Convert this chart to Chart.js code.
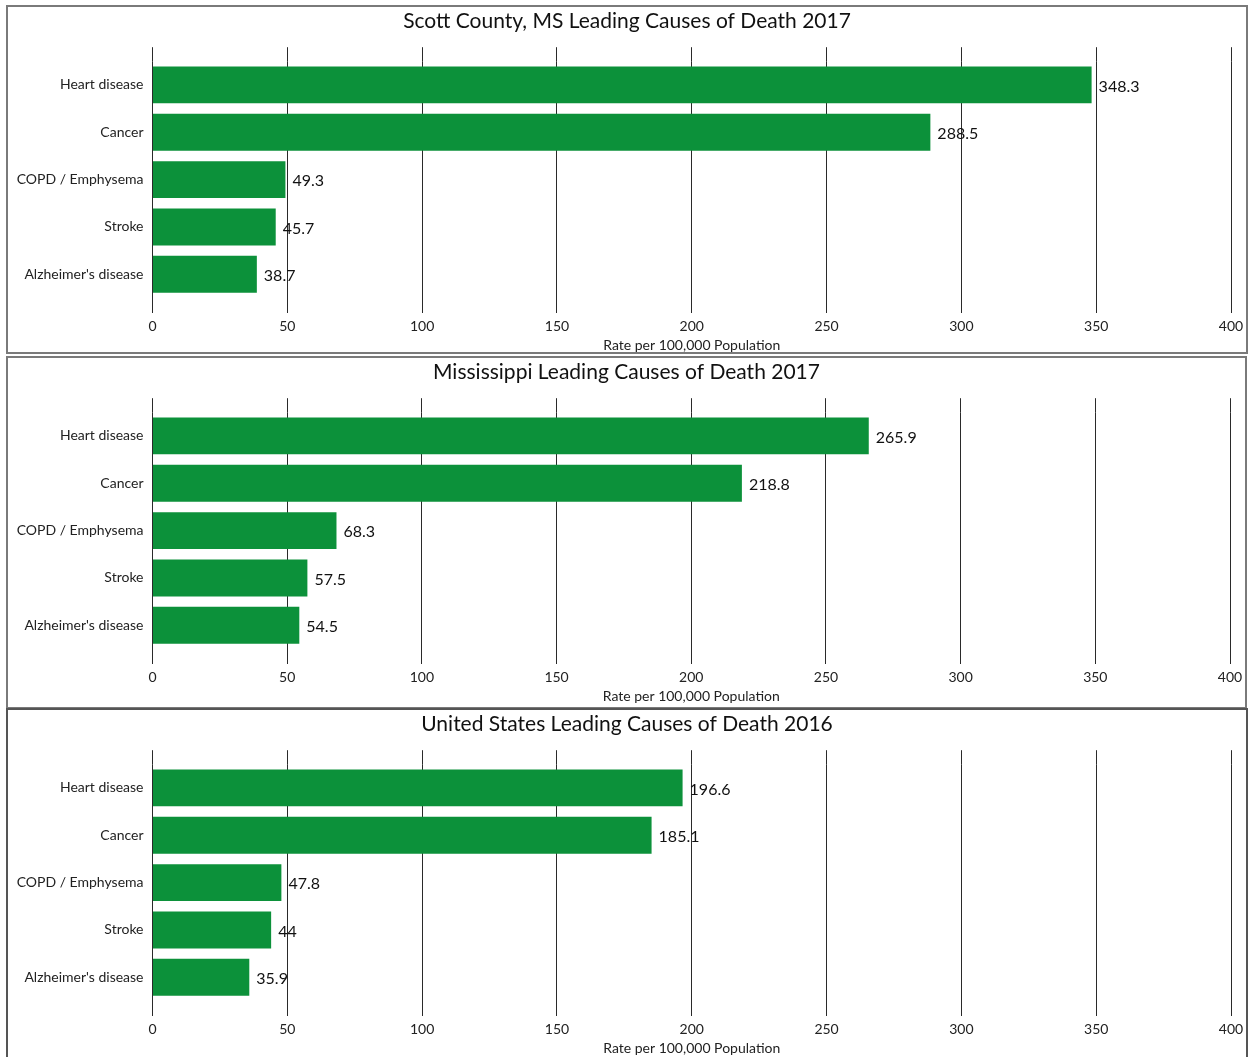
<!DOCTYPE html>
<html>
<head>
<meta charset="utf-8">
<script src="https://cdn.jsdelivr.net/npm/chart.js@4.4.1/dist/chart.umd.min.js"></script>
<style>
  html, body { margin: 0; padding: 0; background: #fff; overflow: hidden; }
  body { width: 1249px; height: 1057px; position: relative; }
  .panel { position: absolute; border: 2px solid #7a7a7a; box-sizing: border-box; background: #fff; }
  .panel canvas { position: absolute; left: 0; top: 0; }
</style>
</head>
<body>
<div class="panel" id="p1" style="left:6px; top:5px; width:1242px; height:349px;"><canvas id="c1"></canvas></div>
<div class="panel" id="p2" style="left:6px; top:356px; width:1241px; height:353px;"><canvas id="c2"></canvas></div>
<div class="panel" id="p3" style="left:6px; top:708px; width:1242px; height:360px; border-color:#555;"><canvas id="c3"></canvas></div>
<script>
// ---- data ----
const causes = ["Heart disease", "Cancer", "COPD / Emphysema", "Stroke", "Alzheimer's disease"];
const scottValues = [348.3, 288.5, 49.3, 45.7, 38.7];
const mississippiValues = [265.9, 218.8, 68.3, 57.5, 54.5];
const usValues = [196.6, 185.1, 47.8, 44, 35.9];
const chartTitles = [
  "Scott County, MS Leading Causes of Death 2017",
  "Mississippi Leading Causes of Death 2017",
  "United States Leading Causes of Death 2016"
];
const axisTitle = "Rate per 100,000 Population";
const xMin = 0, xMax = 400, xStep = 50;

const FONT = "Lato, 'Open Sans', sans-serif";
const GREEN = "#0c913a";
const GRID = "#2a2a2a";

const valueLabels = {
  id: 'valueLabels',
  afterDatasetsDraw(chart) {
    const ctx = chart.ctx;
    const meta = chart.getDatasetMeta(0);
    const data = chart.data.datasets[0].data;
    ctx.save();
    ctx.font = "16px " + FONT;
    ctx.fillStyle = "#111";
    ctx.textAlign = "left";
    ctx.textBaseline = "middle";
    meta.data.forEach((bar, i) => {
      ctx.fillText(String(data[i]), bar.x + 7, bar.y + 1.5);
    });
    ctx.restore();
  }
};

function makeChart(id, title, values, w, h) {
  const canvas = document.getElementById(id);
  canvas.style.width = w + "px";
  canvas.style.height = h + "px";
  canvas.width = w; canvas.height = h;
  return new Chart(canvas, {
    type: 'bar',
    data: {
      labels: causes,
      datasets: [{
        data: values,
        backgroundColor: GREEN,
        borderWidth: 0,
        categoryPercentage: 1.0,
        barPercentage: 0.78
      }]
    },
    options: {
      indexAxis: 'y',
      responsive: false,
      animation: false,
      maintainAspectRatio: false,
      layout: { padding: { left: 0, right: 0, top: 0, bottom: 0 } },
      plugins: {
        legend: { display: false },
        tooltip: { enabled: false },
        title: {
          display: true,
          text: title,
          color: "#111",
          font: { family: FONT, size: 21, weight: 'normal' },
          padding: { top: 2, bottom: 13 }
        }
      },
      scales: {
        x: {
          type: 'linear',
          position: 'bottom',
          min: xMin, max: xMax,
          ticks: { stepSize: xStep, color: "#222", padding: 5, font: { family: FONT, size: 14 } },
          grid: { color: GRID, lineWidth: 1, drawTicks: true, tickLength: 15, drawOnChartArea: true, tickColor: GRID },
          border: { display: false },
          title: { display: true, text: axisTitle, color: "#222", font: { family: FONT, size: 14 }, padding: { top: 0, bottom: 0 } },
          afterFit(scale) { scale.height = 56; scale.paddingLeft = 0; scale.paddingRight = 15; }
        },
        xTop: {
          type: 'linear',
          axis: 'x',
          position: 'top',
          min: xMin, max: xMax,
          ticks: { stepSize: xStep, display: false },
          grid: { color: GRID, lineWidth: 1, drawTicks: true, tickLength: 14, drawOnChartArea: false, tickColor: GRID },
          border: { display: false },
          afterFit(scale) { scale.height = 14; scale.paddingLeft = 0; scale.paddingRight = 15; }
        },
        y: {
          type: 'category',
          offset: true,
          ticks: { color: "#222", padding: 9, font: { family: FONT, size: 14 } },
          grid: { display: false, drawTicks: false },
          border: { display: false },
          afterFit(scale) { scale.width = 144.5; }
        }
      }
    },
    plugins: [valueLabels]
  });
}

makeChart('c1', chartTitles[0], scottValues, 1238, 347);
makeChart('c2', chartTitles[1], mississippiValues, 1237, 347);
makeChart('c3', chartTitles[2], usValues, 1238, 347);
</script>
</body>
</html>
